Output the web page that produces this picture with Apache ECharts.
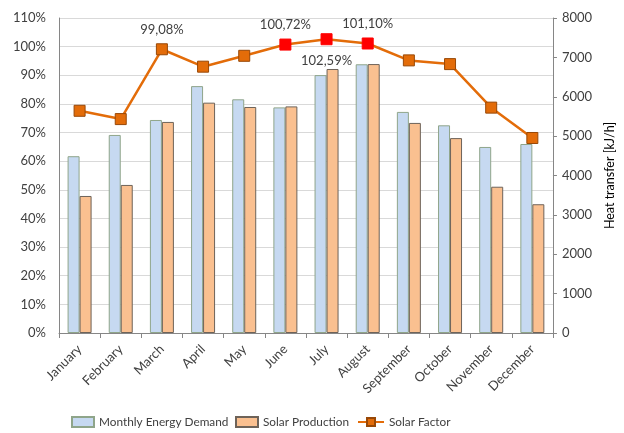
<!DOCTYPE html>
<html><head><meta charset="utf-8">
<script src="https://cdn.jsdelivr.net/npm/echarts@6/dist/echarts.min.js"></script>
<style>html,body{margin:0;padding:0;background:#fff}#c{width:624px;height:433px}</style>
</head><body><div id="c"></div>
<script>
const months = ['January','February','March','April','May','June','July','August','September','October','November','December'];
const demand = [4490, 5030, 5410, 6270, 5935, 5730, 6550, 6825, 5615, 5275, 4725, 4800];
const production = [3480, 3760, 5360, 5850, 5740, 5755, 6705, 6830, 5335, 4950, 3715, 3270];
const solarFactor = [77.6, 74.7, 99.08, 93.0, 96.8, 100.72, 102.59, 101.10, 95.2, 93.9, 78.7, 68.1];
const labelled = [2, 5, 6, 7];
const labelBelow = [6];
const leftTicks = {min: 0, max: 110, interval: 10};
const rightTicks = {min: 0, max: 8000, interval: 1000};

const font = 'Lato, "Open Sans", sans-serif';
const txt = '#404040';
const legendText = {fontFamily: font, fontSize: 11.8, color: txt};
const chart = echarts.init(document.getElementById('c'), null, {renderer: 'canvas'});
chart.setOption({
  animation: false,
  backgroundColor: '#fff',
  textStyle: {fontFamily: font},
  grid: {left: 59, right: 71, top: 18, bottom: 100},
  legend: [
    {top: 416, left: 71, padding: 0, itemWidth: 22, itemHeight: 10, itemGap: 4, textStyle: legendText,
     data: [{name: 'Monthly Energy Demand', icon: 'rect'}]},
    {top: 416, left: 235, padding: 0, itemWidth: 22, itemHeight: 10, itemGap: 4, textStyle: legendText,
     data: [{name: 'Solar Production', icon: 'rect'}]},
    {top: 416, left: 357, padding: 0, itemWidth: 26, itemHeight: 10, itemGap: 4, textStyle: legendText,
     data: [{name: 'Solar Factor', itemStyle: {color: '#E36C09', borderColor: '#984807'}}]}
  ],
  xAxis: {
    type: 'category', data: months,
    axisLine: {lineStyle: {color: '#868686'}},
    axisTick: {show: true, length: 5, lineStyle: {color: '#868686'}},
    axisLabel: {rotate: 45, fontFamily: font, fontSize: 13, color: txt, margin: 14, interval: 0}
  },
  yAxis: [
    {type: 'value', min: leftTicks.min, max: leftTicks.max, interval: leftTicks.interval,
     axisLine: {show: true, lineStyle: {color: '#868686'}},
     axisTick: {show: false},
     axisLabel: {formatter: '{value}%', fontFamily: font, fontSize: 13, color: txt, margin: 13},
     splitLine: {lineStyle: {color: '#D9D9D9'}}},
    {type: 'value', min: rightTicks.min, max: rightTicks.max, interval: rightTicks.interval,
     name: 'Heat transfer [kJ/h]', nameLocation: 'middle', nameRotate: 90, nameGap: 50,
     nameTextStyle: {fontFamily: font, fontSize: 12.5, color: '#000'},
     axisLine: {show: true, lineStyle: {color: '#868686'}},
     axisTick: {show: true, length: 4, lineStyle: {color: '#868686'}},
     axisLabel: {formatter: v => String(v), fontFamily: font, fontSize: 13, color: txt, margin: 9},
     splitLine: {show: false}}
  ],
  series: [
    {name: 'Monthly Energy Demand', type: 'bar', yAxisIndex: 1, data: demand,
     barWidth: 12, barGap: '0%',
     itemStyle: {color: '#C6D9F1', borderColor: '#8FA58A', borderWidth: 1}},
    {name: 'Solar Production', type: 'bar', yAxisIndex: 1, data: production,
     barWidth: 12, barGap: '0%',
     itemStyle: {color: '#FAC090', borderColor: '#6E6359', borderWidth: 1}},
    {name: 'Solar Factor', type: 'line', yAxisIndex: 0, z: 5,
     symbol: 'rect', symbolSize: 11,
     lineStyle: {color: '#E36C09', width: 2.5},
     itemStyle: {color: '#E36C09', borderColor: '#984807', borderWidth: 1},
     data: solarFactor.map((v, i) => {
       const d = {value: v};
       if (v > 100) d.itemStyle = {color: '#FF0000', borderColor: '#FF0000'};
       if (labelled.includes(i)) {
         d.label = {show: true, position: labelBelow.includes(i) ? 'bottom' : 'top',
           distance: labelBelow.includes(i) ? 9 : 7,
           formatter: v.toFixed(2).replace('.', ',') + '%',
           fontFamily: font, fontSize: 13, color: txt};
       }
       return d;
     })}
  ]
});
</script></body></html>
